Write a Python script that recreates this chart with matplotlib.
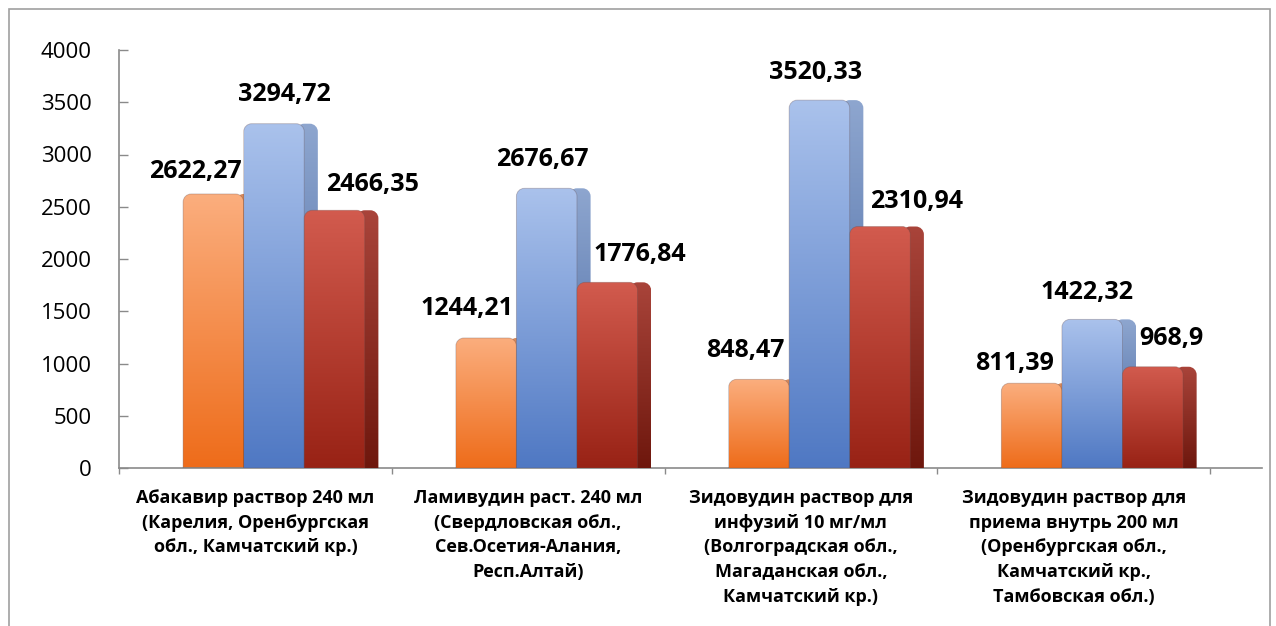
import numpy as np
import matplotlib
matplotlib.use("Agg")
import matplotlib.pyplot as plt
from matplotlib.path import Path
from matplotlib.patches import PathPatch, Rectangle
from matplotlib.colors import LinearSegmentedColormap

# ---- data ----
categories = [
    "Абакавир раствор 240 мл\n(Карелия, Оренбургская\nобл., Камчатский кр.)",
    "Ламивудин раст. 240 мл\n(Свердловская обл.,\nСев.Осетия-Алания,\nРесп.Алтай)",
    "Зидовудин раствор для\nинфузий 10 мг/мл\n(Волгоградская обл.,\nМагаданская обл.,\nКамчатский кр.)",
    "Зидовудин раствор для\nприема внутрь 200 мл\n(Оренбургская обл.,\nКамчатский кр.,\nТамбовская обл.)",
]
series_orange = [2622.27, 1244.21, 848.47, 811.39]
series_blue = [3294.72, 2676.67, 3520.33, 1422.32]
series_red = [2466.35, 1776.84, 2310.94, 968.9]
y_ticks = [0, 500, 1000, 1500, 2000, 2500, 3000, 3500, 4000]

# label nudges in pixels (dx, dy above bar top)
label_nudge = [
    [(-18, 22), (-19, 29), (-14, 29), (-17, 20)],
    [(10, 29), (-4, 29), (-4, 28), (-5, 27)],
    [(38, 26), (33, 28), (37, 25), (19, 28)],
]

# ---- styles ----
front_cols = [("#ee6c1a", "#fbae7e"), ("#4f78c3", "#aac2ec"), ("#982215", "#d25b4e")]
side_cols = [("#b8561a", "#d88a5c"), ("#3d5f9c", "#8ea6cf"), ("#6e170d", "#a9443a")]

W, H = 1276, 626
fig = plt.figure(figsize=(W / 100, H / 100), dpi=100)
x_left, x_right, y_bot, y_top = 119, 1262, 468, 50
ax = fig.add_axes([x_left / W, (H - y_bot) / H, (x_right - x_left) / W, (y_bot - y_top) / H])

cat_px = 272.75
xmax = (x_right - x_left) / cat_px
ax.set_xlim(0, xmax)
ax.set_ylim(0, 4000)
ax.patch.set_alpha(0)

bar_w = 0.222
group_off = 0.068
depth = 0.05
rx = 8 / cat_px
ry = 8 * 4000 / (y_bot - y_top)


def rounded_top(x0, x1, top):
    k = 0.5523
    verts = [
        (x0, 0), (x0, top - ry),
        (x0, top - ry + k * ry), (x0 + rx - k * rx, top), (x0 + rx, top),
        (x1 - rx, top),
        (x1 - rx + k * rx, top), (x1, top - ry + k * ry), (x1, top - ry),
        (x1, 0), (x0, 0),
    ]
    codes = [Path.MOVETO, Path.LINETO,
             Path.CURVE4, Path.CURVE4, Path.CURVE4,
             Path.LINETO,
             Path.CURVE4, Path.CURVE4, Path.CURVE4,
             Path.LINETO, Path.CLOSEPOLY]
    return Path(verts, codes)


grad = np.linspace(1, 0, 256).reshape(-1, 1)
all_series = [series_orange, series_blue, series_red]
idx = np.arange(len(categories))
z = 2
for j, vals in enumerate(all_series):
    xs = idx + 0.5 + group_off + (j - 1) * bar_w
    bars = ax.bar(xs, vals, width=bar_w, color="none", edgecolor="none")
    fcmap = LinearSegmentedColormap.from_list("f%d" % j, front_cols[j])
    scmap = LinearSegmentedColormap.from_list("s%d" % j, side_cols[j])
    for i, b in enumerate(bars):
        x0 = b.get_x()
        x1 = x0 + b.get_width()
        top = b.get_height()
        # side face
        sp = PathPatch(rounded_top(x1 - rx, x1 + depth, top), facecolor="none", edgecolor="none")
        ax.add_patch(sp)
        im = ax.imshow(grad, extent=[x1 - rx, x1 + depth, 0, top], aspect="auto",
                       cmap=scmap, vmin=0, vmax=1, zorder=z, interpolation="bilinear")
        im.set_clip_path(sp)
        # front face
        fp = PathPatch(rounded_top(x0, x1, top), facecolor="none", edgecolor="none")
        ax.add_patch(fp)
        im2 = ax.imshow(grad, extent=[x0, x1, 0, top], aspect="auto",
                        cmap=fcmap, vmin=0, vmax=1, zorder=z + 0.5, interpolation="bilinear")
        im2.set_clip_path(fp)
        edge = PathPatch(rounded_top(x0, x1, top), facecolor="none",
                         edgecolor=(0.4, 0.3, 0.3, 0.35), lw=0.6, zorder=z + 0.6)
        ax.add_patch(edge)
        dx, dy = label_nudge[j][i]
        ax.annotate(str(vals[i]).replace(".", ","), (x0 + bar_w / 2, top),
                    xytext=(dx, dy), textcoords="offset pixels",
                    ha="center", va="center", fontsize=18, fontweight="bold",
                    family="Open Sans", color="black", zorder=10)
        z += 1
    z += 1

ax.set_xlim(0, xmax)
ax.set_ylim(0, 4000)

for s in ["top", "right"]:
    ax.spines[s].set_visible(False)
for s in ["left", "bottom"]:
    ax.spines[s].set_color("#8a8a8a")
    ax.spines[s].set_linewidth(1.2)

ax.set_yticks(y_ticks)
ax.set_yticklabels([str(v) for v in y_ticks], fontsize=16, family="Open Sans")
ax.tick_params(axis="y", direction="in", length=6.5, width=1, color="#8a8a8a", pad=19.5)

ax.set_xticks(np.arange(len(categories) + 1))
ax.set_xticklabels([])
ax.tick_params(axis="x", direction="out", length=4.3, width=1, color="#8a8a8a")
ax.set_xticks(idx + 0.5, minor=True)
ax.set_xticklabels(categories, minor=True, fontsize=13, fontweight="bold",
                   family="Open Sans", linespacing=1.48, va="top")
ax.tick_params(axis="x", which="minor", length=0, pad=15)

fig.patches.append(Rectangle((9 / W, -0.02), (1270 - 9) / W, (H - 9) / H + 0.02,
                             transform=fig.transFigure, fill=False,
                             edgecolor="#a0a0a0", lw=1.2))

fig.savefig("out.png", dpi=100)
